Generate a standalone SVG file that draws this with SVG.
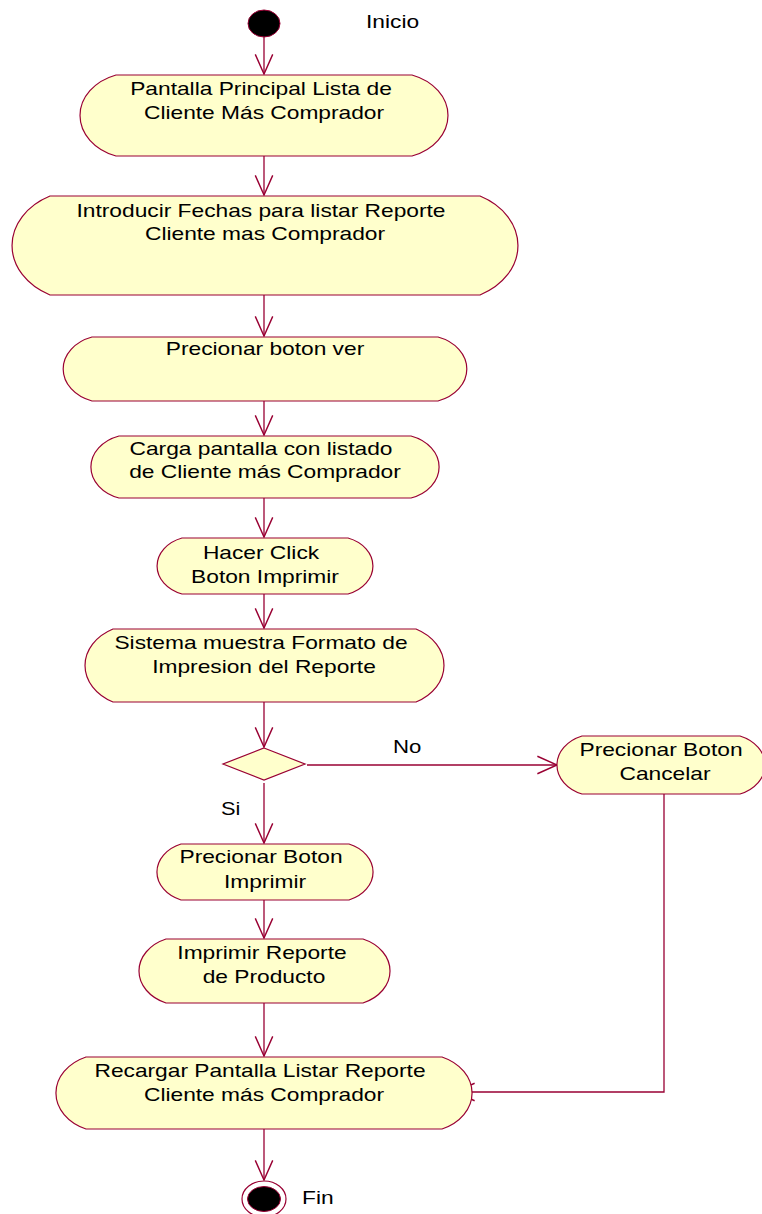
<svg xmlns="http://www.w3.org/2000/svg" width="762" height="1214" viewBox="0 0 762 1214">
<defs>
<style>
.act{fill:#FFFFCC;stroke:#990033;stroke-width:1.2}
.ln{fill:none;stroke:#990033;stroke-width:1.3}
.t{font-family:"Liberation Sans",Arial,sans-serif;font-size:18.5px;fill:#000;text-anchor:middle}
.l{font-family:"Liberation Sans",Arial,sans-serif;font-size:18.5px;fill:#000;text-anchor:start}
</style>
<marker id="arr" markerUnits="userSpaceOnUse" markerWidth="24" markerHeight="24" viewBox="-20 -10 22 20" refX="0" refY="0" orient="auto" overflow="visible">
<path d="M-18,-8 L0,0 L-18,8" fill="none" stroke="#990033" stroke-width="1.3"/>
</marker>
</defs>
<rect x="0" y="0" width="762" height="1214" fill="#FFFFFF"/>

<g id="connectors">
<line class="ln" x1="264" y1="37" x2="264" y2="74" marker-end="url(#arr)"/>
<line class="ln" x1="264" y1="156" x2="264" y2="195" marker-end="url(#arr)"/>
<line class="ln" x1="264" y1="295" x2="264" y2="336" marker-end="url(#arr)"/>
<line class="ln" x1="264" y1="401" x2="264" y2="435" marker-end="url(#arr)"/>
<line class="ln" x1="264" y1="498" x2="264" y2="537" marker-end="url(#arr)"/>
<line class="ln" x1="264" y1="594" x2="264" y2="628" marker-end="url(#arr)"/>
<line class="ln" x1="264" y1="702" x2="264" y2="747" marker-end="url(#arr)"/>
<line class="ln" x1="264" y1="783" x2="264" y2="843" marker-end="url(#arr)"/>
<line class="ln" x1="264" y1="900" x2="264" y2="938" marker-end="url(#arr)"/>
<line class="ln" x1="264" y1="1003" x2="264" y2="1056" marker-end="url(#arr)"/>
<line class="ln" x1="264" y1="1129" x2="264" y2="1180" marker-end="url(#arr)"/>
<line class="ln" x1="307" y1="765" x2="557" y2="765" marker-end="url(#arr)"/>
<polyline class="ln" points="664,794 664,1092 455,1092" marker-end="url(#arr)"/>
<text class="l" transform="translate(393 753) scale(1.2 1)">No</text>
<text class="l" transform="translate(221 815) scale(1.18 1)">Si</text>
</g>

<g id="start">
<ellipse cx="264" cy="23.5" rx="16" ry="13.5" fill="#000000" stroke="#990033" stroke-width="1"/>
<text class="l" transform="translate(366 28) scale(1.23 1)">Inicio</text>
</g>

<g id="n1">
<path class="act" d="M116,75 H412 A54.2,43 0 0 1 412,156 H116 A54.2,43 0 0 1 116,75 Z"/>
<text class="t" transform="translate(261 95) scale(1.23 1)">Pantalla Principal Lista de</text>
<text class="t" transform="translate(264 119) scale(1.23 1)">Cliente Más Comprador</text>
</g>

<g id="n2">
<path class="act" d="M50,196 H480 A70.1,55.7 0 0 1 480,295 H50 A70.1,55.7 0 0 1 50,196 Z"/>
<text class="t" transform="translate(261 217) scale(1.23 1)">Introducir Fechas para listar Reporte</text>
<text class="t" transform="translate(265 240) scale(1.23 1)">Cliente mas Comprador</text>
</g>

<g id="n3">
<path class="act" d="M92,337 H438 A42.5,33.8 0 0 1 438,401 H92 A42.5,33.8 0 0 1 92,337 Z"/>
<text class="t" transform="translate(265 355) scale(1.23 1)">Precionar boton ver</text>
</g>

<g id="n4">
<path class="act" d="M119,436 H411 A41.2,32.7 0 0 1 411,498 H119 A41.2,32.7 0 0 1 119,436 Z"/>
<text class="t" transform="translate(261 455) scale(1.23 1)">Carga pantalla con listado</text>
<text class="t" transform="translate(265 478) scale(1.23 1)">de Cliente más Comprador</text>
</g>

<g id="n5">
<path class="act" d="M182,538 H348 A37.4,29.7 0 0 1 348,594 H182 A37.4,29.7 0 0 1 182,538 Z"/>
<text class="t" transform="translate(261 559) scale(1.23 1)">Hacer Click</text>
<text class="t" transform="translate(265 583) scale(1.23 1)">Boton Imprimir</text>
</g>

<g id="n6">
<path class="act" d="M113,629 H416 A51.8,41.1 0 0 1 416,702 H113 A51.8,41.1 0 0 1 113,629 Z"/>
<text class="t" transform="translate(261 649) scale(1.23 1)">Sistema muestra Formato de</text>
<text class="t" transform="translate(264 673) scale(1.23 1)">Impresion del Reporte</text>
</g>

<g id="decision">
<polygon class="act" points="264,748 305,764 264,780 223,764"/>
</g>

<g id="cancelar">
<path class="act" d="M582,736 H740 A39.2,31.1 0 0 1 740,794 H582 A39.2,31.1 0 0 1 582,736 Z"/>
<text class="t" transform="translate(661 756) scale(1.23 1)">Precionar Boton</text>
<text class="t" transform="translate(665 780) scale(1.23 1)">Cancelar</text>
</g>

<g id="n7">
<path class="act" d="M181,844 H349 A38,30.1 0 0 1 349,900 H181 A38,30.1 0 0 1 181,844 Z"/>
<text class="t" transform="translate(261 863) scale(1.23 1)">Precionar Boton</text>
<text class="t" transform="translate(265 888) scale(1.23 1)">Imprimir</text>
</g>

<g id="n8">
<path class="act" d="M166,939 H363 A43.6,34.6 0 0 1 363,1003 H166 A43.6,34.6 0 0 1 166,939 Z"/>
<text class="t" transform="translate(262 959) scale(1.23 1)">Imprimir Reporte</text>
<text class="t" transform="translate(264 983) scale(1.23 1)">de Producto</text>
</g>

<g id="n9">
<path class="act" d="M86,1057 H442 A49.3,39.1 0 0 1 442,1129 H86 A49.3,39.1 0 0 1 86,1057 Z"/>
<text class="t" transform="translate(260 1077) scale(1.23 1)">Recargar Pantalla Listar Reporte</text>
<text class="t" transform="translate(264 1101) scale(1.23 1)">Cliente más Comprador</text>
</g>

<g id="end">
<ellipse cx="264" cy="1199" rx="22" ry="18" fill="#FFFFFF" stroke="#990033" stroke-width="1.2"/>
<ellipse cx="264" cy="1199" rx="16.5" ry="12.5" fill="#000000" stroke="#990033" stroke-width="1"/>
<text class="l" transform="translate(302 1204) scale(1.23 1)">Fin</text>
</g>
</svg>
